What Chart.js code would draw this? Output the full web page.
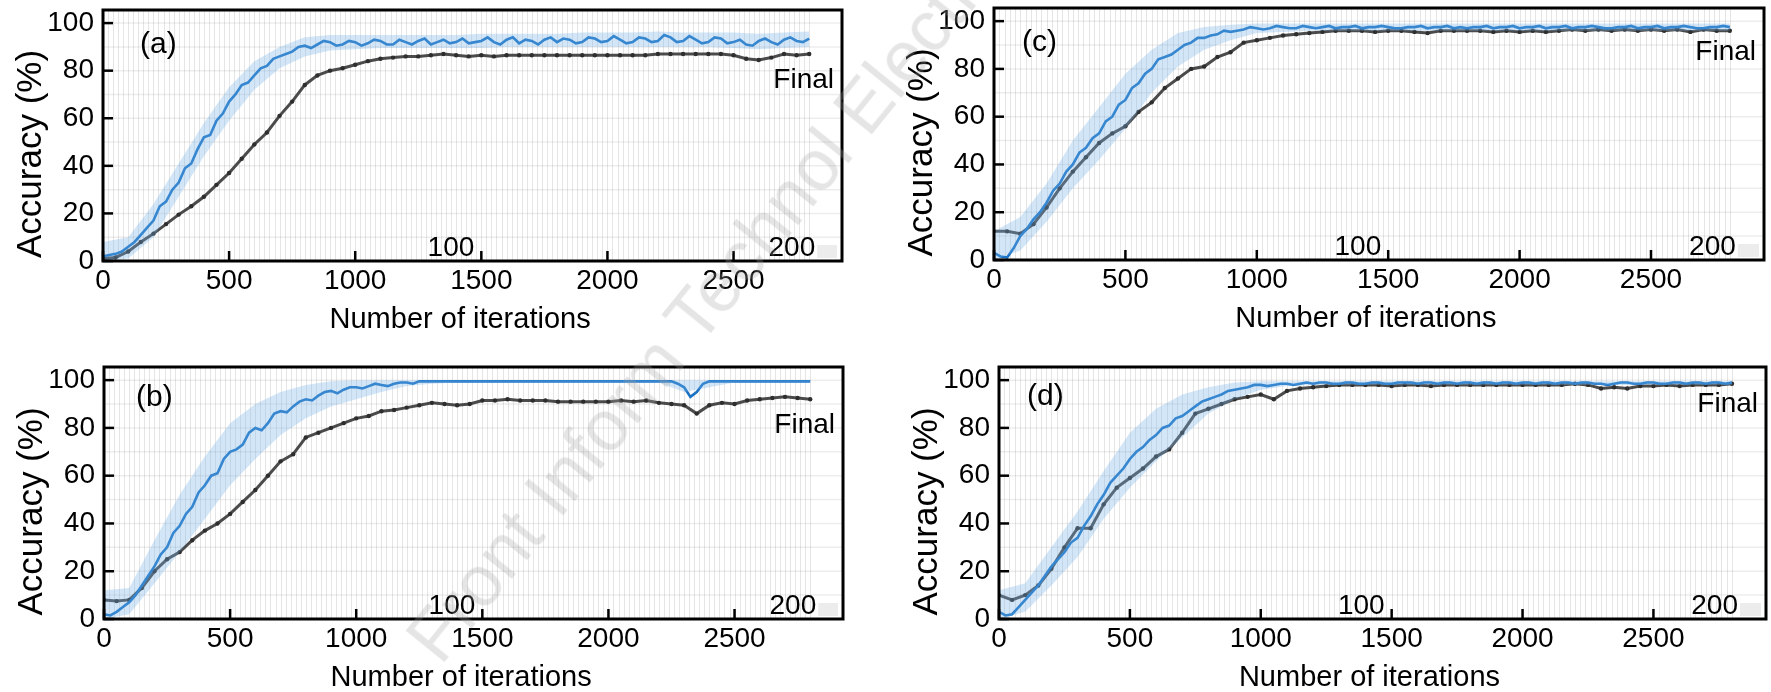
<!DOCTYPE html>
<html>
<head>
<meta charset="utf-8">
<script src="https://cdn.jsdelivr.net/npm/chart.js@4.4.0/dist/chart.umd.min.js"></script>
<style>
  body { margin: 0; background: #fff; width: 1771px; height: 692px; overflow: hidden; position: relative; }
  .panel { position: absolute; }
  #wm {
    position: absolute; left: 440px; top: 606px;
    font: 72px/1 "Liberation Sans", Arial, sans-serif;
    color: rgba(160,160,160,0.28); white-space: nowrap;
    transform-origin: 0 60px; transform: rotate(-51deg);
    pointer-events: none;
  }
</style>
</head>
<body>
<canvas class="panel" id="chartA" width="885" height="346" style="left:0;top:0"></canvas>
<canvas class="panel" id="chartC" width="886" height="346" style="left:885px;top:0"></canvas>
<canvas class="panel" id="chartB" width="885" height="346" style="left:0;top:346px"></canvas>
<canvas class="panel" id="chartD" width="886" height="346" style="left:885px;top:346px"></canvas>
<div id="wm">Front Inform Technol Electron Eng</div>
<script>
// iterations: blue mean every 25, grey curve every 50, spread band every 100
const itersFine = [
  0, 25, 50, 75, 100, 125, 150, 175,
  200, 225, 250, 275, 300, 325, 350, 375,
  400, 425, 450, 475, 500, 525, 550, 575,
  600, 625, 650, 675, 700, 725, 750, 775,
  800, 825, 850, 875, 900, 925, 950, 975,
  1000, 1025, 1050, 1075, 1100, 1125, 1150, 1175,
  1200, 1225, 1250, 1275, 1300, 1325, 1350, 1375,
  1400, 1425, 1450, 1475, 1500, 1525, 1550, 1575,
  1600, 1625, 1650, 1675, 1700, 1725, 1750, 1775,
  1800, 1825, 1850, 1875, 1900, 1925, 1950, 1975,
  2000, 2025, 2050, 2075, 2100, 2125, 2150, 2175,
  2200, 2225, 2250, 2275, 2300, 2325, 2350, 2375,
  2400, 2425, 2450, 2475, 2500, 2525, 2550, 2575,
  2600, 2625, 2650, 2675, 2700, 2725, 2750, 2775,
  2800
];
const iters = [
  0, 50, 100, 150, 200, 250, 300, 350, 400, 450,
  500, 550, 600, 650, 700, 750, 800, 850, 900, 950,
  1000, 1050, 1100, 1150, 1200, 1250, 1300, 1350, 1400, 1450,
  1500, 1550, 1600, 1650, 1700, 1750, 1800, 1850, 1900, 1950,
  2000, 2050, 2100, 2150, 2200, 2250, 2300, 2350, 2400, 2450,
  2500, 2550, 2600, 2650, 2700, 2750, 2800
];
const bandIters = [
  0, 100, 200, 300, 400, 500, 600, 700, 800, 900,
  1000, 1100, 1200, 1300, 1400, 1500, 1600, 1700, 1800, 1900,
  2000, 2100, 2200, 2300, 2400, 2500, 2600, 2700, 2800
];

// (a)
const blueA = [
  2, 2.5, 3, 4, 6, 8, 11, 14,
  17, 23, 25, 30, 33, 39, 41, 47,
  52, 53, 59, 62, 67, 70, 74, 75,
  78, 81, 82, 85, 86, 87, 88, 90,
  90.5, 89.5, 91, 92.5, 92, 90.5, 91, 92.5,
  92, 90.5, 91.5, 93, 92.5, 91, 91, 93,
  92, 91, 92.5, 93.5, 91, 92, 93, 91.5,
  92, 93.5, 91.5, 92, 92.5, 94, 92, 91,
  93, 94, 91.5, 93, 92.5, 91, 93, 94,
  92, 93.5, 93, 91.5, 92, 94, 93.5, 92,
  92.5, 94.5, 93, 91.5, 92, 94, 93.5, 92,
  92.5, 95, 94, 92, 92.5, 94.5, 93, 91.5,
  92, 94, 93.5, 91.5, 92, 93, 91, 90.5,
  92.5, 93.5, 92, 91, 93, 94, 92.5, 92,
  93.5
];
const grayA = [
  1, 1.5, 4, 8, 11.5, 15.5, 19.5, 23, 27, 32,
  37, 43, 49, 54, 61, 67, 74, 78, 80, 81,
  82.5, 84, 85, 85.5, 86, 86, 86.5, 87, 86.5, 86,
  86.5, 86, 86.5, 86.5, 86.5, 86.5, 86.5, 86.5, 86.5, 86.5,
  86.5, 86.5, 86.5, 86.5, 87, 87, 87, 87, 87, 87,
  86.5, 85, 84.5, 85.5, 87, 86.5, 87
];
const upperA = [
  8, 10, 24, 41, 58, 73, 84, 90, 94, 95,
  95, 95, 95, 95, 95, 95.5, 95.5, 95.5, 95.5, 96,
  96, 96, 96.5, 96, 96, 96, 95.5, 96, 96.5
];
const lowerA = [
  0, 1, 10, 27, 44, 59, 72, 81, 86, 88.5,
  89, 89.5, 89.5, 89.5, 89.5, 89.5, 90, 90, 90, 90,
  90, 90, 90, 90, 90, 89.5, 89, 89.5, 90
];

// (b)
const blueB = [
  2, 1.5, 3, 5, 7, 10, 14, 18,
  22, 27, 30, 36, 39, 44, 47, 53,
  56, 60, 61, 67, 70, 71, 73, 78,
  80, 79, 82, 86, 87, 86.5, 89, 91,
  92, 91.5, 93.5, 95, 95.5, 94.5, 96, 97,
  97, 96.5, 97.5, 98.5, 98, 97.5, 98.5, 99,
  99, 98.5, 99.5, 99.5, 99.5, 99.5, 99.5, 99.5,
  99.5, 99.5, 99.5, 99.5, 99.5, 99.5, 99.5, 99.5,
  99.5, 99.5, 99.5, 99.5, 99.5, 99.5, 99.5, 99.5,
  99.5, 99.5, 99.5, 99.5, 99.5, 99.5, 99.5, 99.5,
  99.5, 99.5, 99.5, 99.5, 99.5, 99.5, 99.5, 99.5,
  99.5, 99.5, 99.5, 98.5, 97, 93, 95, 98.5,
  99.5, 99.5, 99.5, 99.5, 99.5, 99.5, 99.5, 99.5,
  99.5, 99.5, 99.5, 99.5, 99.5, 99.5, 99.5, 99.5,
  99.5
];
const grayB = [
  8, 7.5, 8, 13, 20, 25, 28, 33, 37, 40,
  44, 49, 54, 60, 66, 69, 76, 78, 80, 82,
  84, 85, 87, 87.5, 88.5, 89.5, 90.5, 90, 89.5, 90,
  91.5, 91.5, 92, 91.5, 91.5, 91.5, 91, 91, 91, 91,
  91, 91.5, 91, 91.5, 90.5, 90, 89.5, 86, 89.5, 90.5,
  90, 91.5, 92, 92.5, 93, 92.5, 92
];
const upperB = [
  12, 13, 33, 52, 68, 82, 90, 95, 98, 99.5,
  100, 100, 100, 100, 100, 100, 100, 100, 100, 100,
  100, 100, 100, 100, 100, 100, 100, 100, 100
];
const lowerB = [
  0, 2, 15, 28, 42, 56, 67, 77, 84, 89,
  92, 95, 97.5, 98.5, 99, 99, 99, 99, 99, 99,
  99, 99, 99, 95, 97, 99, 99, 99, 99
];

// (c)
const blueC = [
  3, 1.5, 1, 5, 10, 13, 17, 20,
  24, 29, 32, 37, 40, 45, 47, 51,
  53, 58, 60, 65, 67, 72, 74, 78,
  80, 84, 85, 86, 88, 90, 91, 93,
  93, 94, 94.5, 96, 95.5, 96, 96.5, 97.5,
  97, 96.5, 97, 98, 97.5, 97, 97, 98,
  97.5, 97, 97.5, 98, 97, 97.5, 97.5, 98,
  97, 97.5, 97.5, 98, 97.5, 97, 97, 97.5,
  97.5, 98, 97, 97.5, 97.5, 98, 97, 97.5,
  97, 97.5, 97.5, 98, 97, 97.5, 97.5, 98,
  97, 97.5, 97.5, 98, 97, 97.5, 97.5, 98,
  97, 97.5, 97.5, 98, 97.5, 97, 97, 97.5,
  97.5, 98, 97, 97.5, 97.5, 98, 97, 97.5,
  97.5, 98, 97.5, 97, 97, 97.5, 97.5, 98,
  97.5
];
const grayC = [
  12, 12, 11, 15, 22, 30, 37, 43, 49, 53,
  56, 62, 66, 72, 76, 80, 81, 85, 87, 91,
  92, 93, 94, 94.5, 95, 95.5, 96, 96, 96, 95.5,
  96, 96, 95.5, 95, 96, 96, 96, 96, 95.5, 96,
  95.5, 96, 95.5, 96, 96.5, 96, 96.5, 96, 96.5, 96,
  96.5, 96, 96.5, 95.5, 96.5, 96, 96
];
const upperC = [
  12, 18, 32, 50, 64, 78, 88, 95, 97.5, 98.5,
  99, 99, 99, 99, 99, 99, 99, 99, 99, 99,
  99, 99, 99, 99, 99, 99, 99, 99, 99
];
const lowerC = [
  0, 4, 16, 30, 42, 55, 70, 81, 88, 92,
  95, 95.5, 96, 96, 96, 96, 96, 96, 96, 96,
  96, 96, 96, 96, 96, 96, 96, 96, 96
];

// (d)
const blueD = [
  3, 1.5, 2, 5, 8, 11, 14, 18,
  22, 25, 28, 32, 34, 39, 43, 48,
  52, 57, 60, 63, 67, 70, 72, 75,
  77, 80, 81, 84, 85, 87, 89, 91,
  92, 93, 94, 95.5, 96, 96.5, 97, 98,
  98, 97.5, 98, 98.5, 98.5, 98, 98.5, 99,
  98.5, 99, 99, 98.5, 98.5, 99, 99, 98.5,
  98.5, 99, 99, 98.5, 98.5, 99, 99, 99,
  98.5, 99, 99, 98.5, 99, 99, 98.5, 99,
  99, 98.5, 99, 99, 98.5, 99, 99, 98.5,
  99, 99, 98.5, 99, 99, 98.5, 99, 99,
  98.5, 99, 99, 98.5, 98.5, 98, 98.5, 99,
  99, 98.5, 98.5, 99, 99, 98.5, 98.5, 99,
  99, 98.5, 99, 99, 98.5, 99, 99, 98.5,
  99
];
const grayD = [
  10, 8, 10, 14, 21, 30, 38, 38, 48, 55,
  59, 63, 68, 71, 78, 86, 88, 90, 92, 93,
  94, 92, 95.5, 96.5, 97, 97.5, 98, 98, 98, 98,
  97.5, 98, 98, 97.5, 98, 98, 98, 98, 98, 98,
  98, 98, 98, 98, 98.5, 98, 96.5, 97, 96.5, 97.5,
  97.5, 98, 97.5, 98, 98, 98, 98.5
];
const upperD = [
  12, 15, 30, 45, 62, 78, 88, 94, 97, 99,
  99.5, 99.5, 99.5, 99.5, 99.5, 99.5, 99.5, 99.5, 99.5, 99.5,
  99.5, 99.5, 99.5, 99.5, 99.5, 99.5, 99.5, 99.5, 99.5
];
const lowerD = [
  0, 3, 14, 26, 42, 55, 66, 76, 86, 92,
  96, 97.5, 98, 98, 98, 98, 98, 98, 98, 98,
  98, 98, 98, 98, 98, 98, 98, 98, 98
];

const yTicks = [0, 20, 40, 60, 80, 100];
const xTicks = [0, 500, 1000, 1500, 2000, 2500];
const FONT = '"Liberation Sans", Arial, sans-serif';

// grid stripes, frame, inward ticks, tick labels and texts
const panelDeco = {
  id: 'panelDeco',
  beforeDatasetsDraw(chart, args, o) {
    const { ctx, chartArea: a, scales: { x, y } } = chart;
    ctx.save();
    ctx.lineWidth = 1;
    ctx.strokeStyle = 'rgba(0,0,0,0.1)';
    for (let v = 0; v <= 2800; v += 20) {
      const px = Math.round(x.getPixelForValue(v)) + 0.5;
      ctx.beginPath(); ctx.moveTo(px, a.top); ctx.lineTo(px, a.bottom); ctx.stroke();
    }
    ctx.strokeStyle = 'rgba(0,0,0,0.07)';
    ctx.lineWidth = 1.5;
    for (let v = 10; v <= 100; v += 10) {
      const py = y.getPixelForValue(v);
      ctx.beginPath(); ctx.moveTo(a.left, py); ctx.lineTo(a.right, py); ctx.stroke();
    }
    // small grey box behind the "200" label
    ctx.fillStyle = '#ececec';
    ctx.fillRect(x.getPixelForValue(2800) + 8, a.bottom - 16, a.right - x.getPixelForValue(2800) - 13, 13);
    ctx.restore();
  },
  afterDatasetsDraw(chart, args, o) {
    const { ctx, chartArea: a, scales: { x, y } } = chart;
    ctx.save();
    ctx.strokeStyle = '#000';
    ctx.lineWidth = 3;
    ctx.strokeRect(a.left, a.top, a.right - a.left, a.bottom - a.top);
    ctx.lineWidth = 2.5;
    ctx.fillStyle = '#000';
    ctx.textBaseline = 'middle';
    ctx.font = '28px ' + FONT;

    ctx.textAlign = 'right';
    yTicks.forEach(v => {
      const py = y.getPixelForValue(v);
      ctx.beginPath(); ctx.moveTo(a.left, py); ctx.lineTo(a.left + 10, py); ctx.stroke();
      ctx.fillText(String(v), a.left - 9, py);
    });
    ctx.textAlign = 'center';
    xTicks.forEach(v => {
      const px = x.getPixelForValue(v);
      ctx.beginPath(); ctx.moveTo(px, a.bottom); ctx.lineTo(px, a.bottom - 10); ctx.stroke();
      ctx.fillText(String(v), px, a.bottom + 20);
    });

    ctx.textAlign = 'right';
    ctx.fillText('Final', a.right - 8, y.getPixelForValue(o.finalAt));
    ctx.fillText('100', x.getPixelForValue(1500) - 7, a.bottom - 13);
    ctx.fillText('200', x.getPixelForValue(2800) + 6, a.bottom - 13);

    ctx.font = '30px ' + FONT;
    ctx.textAlign = 'left';
    ctx.fillText(o.label, a.left + o.labelDx, a.top + o.labelDy);

    ctx.font = '29px ' + FONT;
    ctx.textAlign = 'center';
    ctx.fillText('Number of iterations', x.getPixelForValue(1400) + 4, a.bottom + 59);
    ctx.font = '35px ' + FONT;
    ctx.translate(a.left - 72, y.getPixelForValue(45));
    ctx.rotate(-Math.PI / 2);
    ctx.fillText('Accuracy (%)', 0, 0);
    ctx.restore();
  }
};

function makePanel(id, area, deco, upper, lower, blue, gray) {
  const canvas = document.getElementById(id);
  const W = canvas.width, H = canvas.height;
  const pts = (xs, ys) => xs.map((v, i) => ({ x: v, y: ys[i] }));
  return new Chart(canvas, {
    type: 'line',
    data: {
      datasets: [
        { data: pts(bandIters, upper), fill: '+1', backgroundColor: 'rgba(115,178,232,0.32)', borderWidth: 0, pointRadius: 0 },
        { data: pts(bandIters, lower), fill: false, borderWidth: 0, pointRadius: 0 },
        { data: pts(itersFine, blue), fill: false, borderColor: '#1a72c4', borderWidth: 2.6, pointRadius: 0 },
        { data: pts(iters, gray), fill: false, borderColor: 'rgba(55,55,55,0.9)', borderWidth: 3,
          pointRadius: 2.2, pointBackgroundColor: '#2e2e2e', pointBorderWidth: 0 }
      ]
    },
    options: {
      responsive: false,
      animation: false,
      layout: { padding: { left: 0, top: area.t, right: W - area.r, bottom: 0 } },
      plugins: { legend: { display: false }, tooltip: { enabled: false }, panelDeco: deco },
      scales: {
        x: {
          type: 'linear', min: 0, max: 2930,
          grid: { display: false, drawTicks: false }, border: { display: false },
          ticks: { display: false },
          afterFit: s => { s.height = H - area.b; s.paddingLeft = 0; s.paddingRight = 0; }
        },
        y: {
          min: 0, max: 105.5,
          grid: { display: false, drawTicks: false }, border: { display: false },
          ticks: { display: false },
          afterFit: s => { s.width = area.l; s.paddingTop = 0; s.paddingBottom = 0; }
        }
      }
    },
    plugins: [panelDeco]
  });
}

makePanel('chartA', { l: 103, t: 10, r: 842, b: 261 },
  { label: '(a)', labelDx: 37, labelDy: 35, finalAt: 76 }, upperA, lowerA, blueA, grayA);
makePanel('chartC', { l: 109, t: 8, r: 879, b: 260 },
  { label: '(c)', labelDx: 28, labelDy: 35, finalAt: 87 }, upperC, lowerC, blueC, grayC);
makePanel('chartB', { l: 104, t: 21, r: 843, b: 273 },
  { label: '(b)', labelDx: 32, labelDy: 31, finalAt: 81 }, upperB, lowerB, blueB, grayB);
makePanel('chartD', { l: 114, t: 21, r: 881, b: 273 },
  { label: '(d)', labelDx: 28, labelDy: 30, finalAt: 90 }, upperD, lowerD, blueD, grayD);
</script>
</body>
</html>
